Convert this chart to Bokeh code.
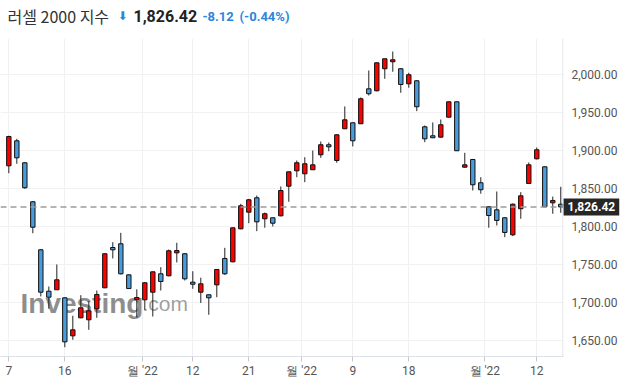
from bokeh.plotting import figure
from bokeh.models import (ColumnDataSource, FixedTicker, NumeralTickFormatter, Span, Label,
                          Range1d, LinearAxis)
from bokeh.layouts import column
from bokeh.embed import file_html
from bokeh.resources import INLINE

# ---- data ----
opens = [1880.5, 1913.4, 1884.5, 1833.2, 1770.0, 1715.5, 1717.4, 1706.8, 1656.8, 1680.5,
         1677.9, 1692.4, 1720.0, 1773.0, 1777.9, 1737.0, 1704.6, 1704.2, 1714.2, 1738.4,
         1735.8, 1766.0, 1764.8, 1727.4, 1714.2, 1710.8, 1723.9, 1758.6, 1754.2, 1797.6,
         1819.5, 1838.4, 1810.8, 1812.1, 1814.7, 1853.7, 1873.9, 1870.0, 1875.3, 1895.0,
         1908.2, 1887.5, 1929.2, 1937.1, 1935.8, 1981.8, 1979.2, 2008.2, 2017.4, 2008.2,
         1988.4, 1992.4, 1931.8, 1920.0, 1918.2, 1944.5, 1964.7, 1878.7, 1888.8, 1858.2,
         1826.6, 1822.6, 1812.1, 1789.7, 1824.0, 1857.2, 1889.7, 1879.2, 1831.8, 1830.0]
highs = [1920.0, 1916.0, 1885.5, 1834.0, 1771.0, 1721.7, 1750.7, 1707.5, 1683.2, 1710.3,
         1702.4, 1716.4, 1765.5, 1780.0, 1792.3, 1737.5, 1718.0, 1727.5, 1741.5, 1747.1,
         1770.4, 1779.2, 1765.5, 1741.8, 1733.3, 1711.5, 1744.5, 1772.6, 1799.5, 1830.5,
         1837.0, 1841.4, 1819.0, 1812.5, 1853.3, 1873.0, 1887.5, 1891.8, 1900.7, 1912.5,
         1911.2, 1922.0, 1958.6, 1937.5, 1970.4, 2005.9, 2016.5, 2021.5, 2030.9, 2009.0,
         2002.9, 1993.0, 1933.6, 1937.5, 1941.4, 1965.0, 1965.0, 1897.6, 1889.5, 1865.5,
         1827.0, 1846.7, 1813.0, 1831.0, 1845.8, 1884.9, 1904.6, 1880.0, 1840.0, 1852.9]
lows = [1870.8, 1883.2, 1850.3, 1791.8, 1708.6, 1692.4, 1717.0, 1641.8, 1651.6, 1680.0,
        1664.7, 1680.5, 1719.5, 1758.6, 1737.5, 1718.5, 1681.0, 1691.0, 1682.2, 1716.4,
        1735.0, 1753.3, 1729.6, 1718.7, 1700.0, 1684.5, 1707.6, 1737.0, 1753.5, 1797.0,
        1805.0, 1794.5, 1799.0, 1800.7, 1814.0, 1833.2, 1865.5, 1859.0, 1875.0, 1891.0,
        1899.7, 1884.5, 1929.0, 1906.0, 1935.5, 1973.0, 1978.5, 1995.0, 2004.2, 1976.6,
        1983.2, 1952.4, 1911.6, 1917.0, 1917.5, 1944.0, 1900.0, 1878.0, 1848.0, 1843.8,
        1799.0, 1802.0, 1786.6, 1788.0, 1810.8, 1856.5, 1889.0, 1826.0, 1817.4, 1818.7]
closes = [1919.1, 1891.0, 1851.6, 1799.7, 1714.2, 1707.6, 1730.5, 1648.9, 1664.7, 1693.7,
          1689.7, 1711.2, 1764.8, 1770.0, 1738.4, 1719.0, 1707.2, 1726.6, 1741.0, 1728.3,
          1768.7, 1769.0, 1731.8, 1724.7, 1725.2, 1706.8, 1744.1, 1738.4, 1798.9, 1827.9,
          1835.8, 1806.8, 1817.4, 1805.0, 1848.0, 1872.6, 1884.5, 1883.2, 1881.8, 1908.2,
          1905.5, 1921.3, 1941.0, 1913.4, 1968.7, 1975.3, 2016.0, 2021.3, 2020.0, 1987.5,
          2000.3, 1958.2, 1916.0, 1917.4, 1934.5, 1964.7, 1900.3, 1881.8, 1855.5, 1849.0,
          1815.1, 1808.6, 1792.8, 1830.0, 1841.0, 1881.8, 1901.6, 1826.6, 1834.9, 1826.42]

tick_pos = [0, 7, 16.7, 23, 30, 36.6, 43, 50, 59.5, 66]
tick_labels = ["7", "16", "월 '22", "12", "21", "월 '22", "9", "18", "월 '22", "12"]
y_ticks = [1650, 1700, 1750, 1800, 1850, 1900, 1950, 2000]

title_name = "러셀 2000 지수"
last_price = 1826.42
change = -8.12
change_pct = -0.44

UP = "#ff0000"
DOWN = "#4a9bd9"
CHG = "#2b86dc"
AXIS = "#dde1e8"

W = 621
HEAD_H = 30
MAIN_H = 360
TOP, BOTTOM, RIGHT = 8, 34, 58
Y0, Y1 = 1629.6, 2048.0
X0, X1 = -1.04, 69.34

# ---------------- header ----------------
hd = figure(width=W, height=HEAD_H, x_range=Range1d(0, W), y_range=Range1d(0, HEAD_H),
            x_axis_type=None, y_axis_type=None, output_backend="svg", toolbar_location=None,
            min_border_left=0, min_border_right=0, min_border_top=0, min_border_bottom=0)
hd.outline_line_color = None
hd.grid.visible = False

ty = HEAD_H - 15.5
hd.add_layout(Label(x=7, y=ty, x_units="screen", y_units="screen", text=title_name,
                    text_font="Noto Sans CJK KR", text_font_size="16px", text_color="#333333",
                    text_baseline="middle"))
hd.add_layout(Label(x=117, y=ty, x_units="screen", y_units="screen", text="⬇",
                    text_font="DejaVu Sans", text_font_size="12px", text_color=CHG,
                    text_baseline="middle"))
hd.add_layout(Label(x=133, y=ty, x_units="screen", y_units="screen", text="{:,.2f}".format(last_price),
                    text_font="Roboto", text_font_style="bold", text_font_size="16px",
                    text_color="#222222", text_baseline="middle"))
hd.add_layout(Label(x=202, y=ty, x_units="screen", y_units="screen", text="{:.2f}".format(change),
                    text_font="Roboto", text_font_style="bold", text_font_size="13px",
                    text_color=CHG, text_baseline="middle"))
hd.add_layout(Label(x=239, y=ty, x_units="screen", y_units="screen", text="({:.2f}%)".format(change_pct),
                    text_font="Roboto", text_font_style="bold", text_font_size="13px",
                    text_color=CHG, text_baseline="middle"))

# ---------------- main chart ----------------
idx = list(range(len(opens)))
src = ColumnDataSource(dict(
    x=idx, open=opens, high=highs, low=lows, close=closes,
    top=[max(o, c) for o, c in zip(opens, closes)],
    bottom=[min(o, c) for o, c in zip(opens, closes)],
    color=[UP if c >= o else DOWN for o, c in zip(opens, closes)],
))

p = figure(width=W, height=MAIN_H,
           x_range=Range1d(X0, X1), y_range=Range1d(Y0, Y1),
           y_axis_location=None, output_backend="svg", toolbar_location=None,
           min_border_left=0, min_border_right=RIGHT, min_border_top=TOP, min_border_bottom=BOTTOM)
p.outline_line_color = None

# watermark
p.add_layout(Label(x=20, y=53, x_units="screen", y_units="screen", text="Investing",
                   text_font="Liberation Sans", text_font_style="bold", text_font_size="28px",
                   text_color="#7a7a7a", text_alpha=0.85, text_baseline="alphabetic", level="underlay"))
p.add_layout(Label(x=142, y=53, x_units="screen", y_units="screen", text=".com",
                   text_font="Liberation Sans", text_font_size="21px",
                   text_color="#8e8e8e", text_alpha=0.85, text_baseline="alphabetic", level="underlay"))

# right border line of the plot area
p.add_layout(Span(location=X1 - 0.07, dimension="height", line_color=AXIS, line_width=1))

# wicks and bodies
p.segment(x0="x", x1="x", y0="low", y1="high", source=src, line_color="#222222", line_width=1)
p.vbar(x="x", width=0.55, top="top", bottom="bottom", source=src,
       fill_color="color", line_color="#111111", line_width=1)

# last price line
p.add_layout(Span(location=last_price, dimension="width", line_color="#9c9c9c",
                  line_dash="6 4", line_width=1.5))

# price tag right next to the plot area (side panel, so it is not clipped)
p.add_layout(Label(x=0, y=last_price, x_units="screen", y_units="data",
                   text="{:,.2f}".format(last_price), text_font="Roboto", text_font_style="bold",
                   text_font_size="12px", text_color="white", text_baseline="middle",
                   background_fill_color="#262626", padding=4), "right")

# y axis on the right; its labels are pulled back over the tag panel
yax = LinearAxis(ticker=FixedTicker(ticks=y_ticks), formatter=NumeralTickFormatter(format="0,0.00"))
yax.axis_line_color = None
yax.major_tick_line_color = None
yax.major_tick_out = 0
yax.major_tick_in = 0
yax.minor_tick_line_color = None
yax.major_label_standoff = -48
yax.major_label_text_font = "Roboto"
yax.major_label_text_font_size = "12px"
yax.major_label_text_color = "#555555"
p.add_layout(yax, "right")

p.xaxis.ticker = FixedTicker(ticks=tick_pos)
p.xaxis.major_label_overrides = {t: l for t, l in zip(tick_pos, tick_labels)}
p.xaxis.axis_line_color = AXIS
p.xaxis.major_tick_line_color = "#c8c8c8"
p.xaxis.major_tick_out = 5
p.xaxis.major_tick_in = 0
p.xaxis.minor_tick_line_color = None
p.xaxis.major_label_standoff = 2
p.xaxis.major_label_text_font = "Roboto"
p.xaxis.major_label_text_font_size = "12px"
p.xaxis.major_label_text_color = "#555555"

p.xgrid.ticker = FixedTicker(ticks=tick_pos)
p.xgrid.grid_line_color = "#f1f1f3"
p.ygrid.ticker = FixedTicker(ticks=y_ticks)
p.ygrid.grid_line_color = "#f1f1f3"

layout = column(hd, p, spacing=0)
open("out.html", "w").write(file_html(layout, INLINE))
